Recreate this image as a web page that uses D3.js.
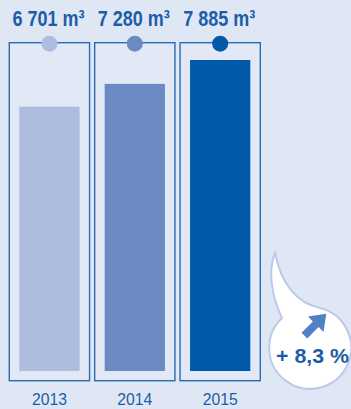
<!DOCTYPE html>
<html>
<head>
<meta charset="utf-8">
<script src="https://cdn.jsdelivr.net/npm/d3@7"></script>
<style>
  html, body { margin: 0; padding: 0; background: #e0e7f4; }
  svg { display: block; }
  text { font-family: "Liberation Sans", Arial, sans-serif; }
</style>
</head>
<body>
<svg id="chart" width="351" height="409"></svg>
<script>
// Annual volumes (m³) per year
const years = ["2013", "2014", "2015"];
const volumes = [6701, 7280, 7885];
const valueLabels = ["6 701 m³", "7 280 m³", "7 885 m³"];
const barColors = ["#adbcdf", "#6b8ac4", "#005aa9"];
const growthLabel = "+ 8,3 %";

const W = 351, H = 409;
const svg = d3.select("#chart");
const textColor = "#1b5ea8";

svg.append("rect").attr("width", W).attr("height", H).attr("fill", "#e0e7f4");

const x = d3.scaleBand().domain(years).range([9.3, 260.3]).paddingInner(0.06).paddingOuter(0);
const y = d3.scaleLinear().domain([0, 7885]).range([371, 60]);

const panelTop = 42.7, panelBottom = 380.7, inset = 10;

const g = svg.append("g");
const cols = g.selectAll("g.col").data(years).join("g").attr("class", "col");

// frame around each year
cols.append("rect")
  .attr("x", d => x(d))
  .attr("y", panelTop)
  .attr("width", x.bandwidth())
  .attr("height", panelBottom - panelTop)
  .attr("fill", "#e2e8f5")
  .attr("stroke", "#2a6bb3")
  .attr("stroke-width", 1.4);

// bars
cols.append("rect")
  .attr("x", d => x(d) + inset)
  .attr("y", (d, i) => y(volumes[i]))
  .attr("width", x.bandwidth() - 2 * inset)
  .attr("height", (d, i) => y(0) - y(volumes[i]))
  .attr("fill", (d, i) => barColors[i]);

// dots on top of frames
cols.append("circle")
  .attr("cx", d => x(d) + x.bandwidth() / 2)
  .attr("cy", panelTop + 1)
  .attr("r", 8)
  .attr("fill", (d, i) => barColors[i]);

// value labels (condensed to fit above each frame)
cols.append("text")
  .attr("x", d => x(d) + x.bandwidth() / 2 - 1)
  .attr("y", 26)
  .attr("text-anchor", "middle")
  .attr("font-size", 22)
  .attr("font-weight", "bold")
  .attr("fill", textColor)
  .attr("textLength", 72)
  .attr("lengthAdjust", "spacingAndGlyphs")
  .text((d, i) => valueLabels[i]);

// year labels
cols.append("text")
  .attr("x", d => x(d) + x.bandwidth() / 2)
  .attr("y", 405)
  .attr("text-anchor", "middle")
  .attr("font-size", 17)
  .attr("fill", textColor)
  .attr("textLength", 35)
  .attr("lengthAdjust", "spacingAndGlyphs")
  .text(d => d);

// growth drop
svg.append("path")
  .attr("d", "M275,253 C268,270 271,295 282,318 A41,41 0 1 0 320,308 C302,304 283,292 275,253 Z")
  .attr("fill", "#ffffff")
  .attr("stroke", "#bccae8")
  .attr("stroke-width", 2);

// arrow pointing up-right
const arrow = svg.append("g").attr("transform", "translate(315,325) rotate(-45)");
arrow.append("path")
  .attr("d", "M-15,-4 L1,-4 L1,-11 L16,0 L1,11 L1,4 L-15,4 Z")
  .attr("fill", "#5280c5");

svg.append("text")
  .attr("x", 312.5)
  .attr("y", 363)
  .attr("text-anchor", "middle")
  .attr("font-size", 20)
  .attr("font-weight", "bold")
  .attr("fill", textColor)
  .attr("textLength", 73)
  .attr("lengthAdjust", "spacingAndGlyphs")
  .text(growthLabel);
</script>
</body>
</html>
